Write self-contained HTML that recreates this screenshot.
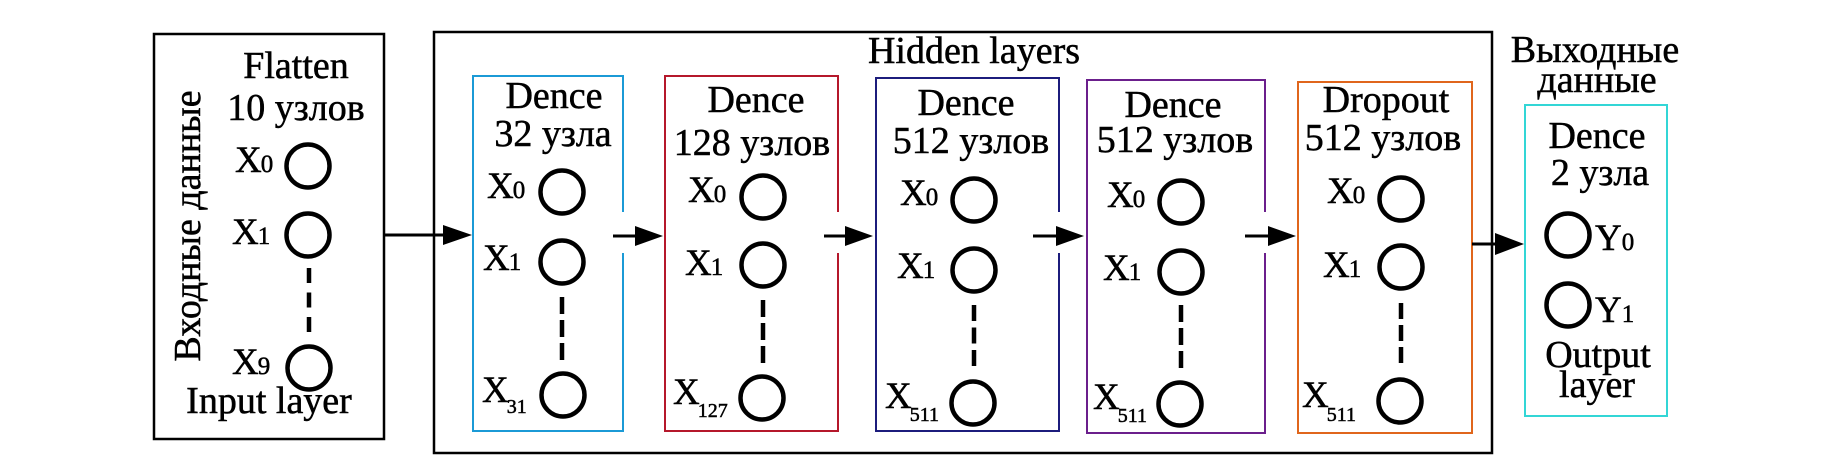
<!DOCTYPE html>
<html>
<head>
<meta charset="utf-8">
<style>
html,body{margin:0;padding:0;background:#fff;}
svg{display:block;}
text{font-family:"Liberation Serif","Times New Roman",serif;fill:#000;stroke:#000;stroke-width:0.5;}
</style>
</head>
<body>
<svg width="1831" height="461" viewBox="0 0 1831 461" xmlns="http://www.w3.org/2000/svg">
<rect x="0" y="0" width="1831" height="461" fill="#fff"/>

<!-- main boxes -->
<rect x="154" y="34" width="230" height="405" fill="none" stroke="#000" stroke-width="2.5"/>
<rect x="434" y="32" width="1058" height="421" fill="none" stroke="#000" stroke-width="2.5"/>

<!-- colored layer boxes (right borders with gaps for arrows) -->
<g fill="none" stroke-width="2">
  <path d="M623 212 V76 H473 V431 H623 V253" stroke="#1b9ad6"/>
  <path d="M838 212 V76 H665 V431 H838 V253" stroke="#b5182b"/>
  <path d="M1059 212 V78 H876 V431 H1059 V253" stroke="#1c1c7c"/>
  <path d="M1265 212 V80 H1087 V433 H1265 V253" stroke="#6b1f8c"/>
  <rect x="1298" y="82" width="174" height="351" stroke="#e0661c"/>
  <rect x="1525" y="105" width="142" height="311" stroke="#33d6d6"/>
</g>

<!-- arrows -->
<g stroke="#000" stroke-width="3">
  <line x1="384" y1="235" x2="446" y2="235"/>
  <line x1="613" y1="236" x2="637" y2="236"/>
  <line x1="824" y1="236" x2="847" y2="236"/>
  <line x1="1033" y1="236" x2="1057" y2="236"/>
  <line x1="1245" y1="236" x2="1269" y2="236"/>
  <line x1="1472" y1="244" x2="1497" y2="244"/>
</g>
<g fill="#000">
  <polygon points="472,235 443,225 443,245"/>
  <polygon points="663,236 635,226 635,246"/>
  <polygon points="873,236 845,226 845,246"/>
  <polygon points="1084,236 1056,226 1056,246"/>
  <polygon points="1296,236 1268,226 1268,246"/>
  <polygon points="1524,244 1495,233 1495,255"/>
</g>

<!-- circles -->
<g fill="none" stroke="#000" stroke-width="4.5">
  <circle cx="308" cy="166" r="21.5"/>
  <circle cx="308" cy="235" r="21.5"/>
  <circle cx="309" cy="368" r="21.5"/>

  <circle cx="562" cy="192" r="21.5"/>
  <circle cx="562" cy="262" r="21.5"/>
  <circle cx="563" cy="395" r="21.5"/>

  <circle cx="763" cy="197" r="21.5"/>
  <circle cx="763" cy="265" r="21.5"/>
  <circle cx="762" cy="398" r="21.5"/>

  <circle cx="974" cy="200" r="21.5"/>
  <circle cx="974" cy="270" r="21.5"/>
  <circle cx="973" cy="403" r="21.5"/>

  <circle cx="1181" cy="202" r="21.5"/>
  <circle cx="1181" cy="272" r="21.5"/>
  <circle cx="1180" cy="404" r="21.5"/>

  <circle cx="1401" cy="199" r="21.5"/>
  <circle cx="1401" cy="267" r="21.5"/>
  <circle cx="1400" cy="401" r="21.5"/>

  <circle cx="1568" cy="235" r="21.5"/>
  <circle cx="1568" cy="305" r="21.5"/>
</g>

<!-- dashed connectors -->
<g stroke="#000" stroke-width="4.5">
  <line x1="309" y1="268" x2="309" y2="332" stroke-dasharray="15 9.5"/>
  <line x1="562" y1="297" x2="562" y2="360" stroke-dasharray="17 6"/>
  <line x1="763" y1="300" x2="763" y2="363" stroke-dasharray="17 6"/>
  <line x1="974" y1="305" x2="974" y2="366" stroke-dasharray="16 6.5"/>
  <line x1="1181" y1="305" x2="1181" y2="368" stroke-dasharray="17 6"/>
  <line x1="1401" y1="303" x2="1401" y2="363" stroke-dasharray="16 6"/>
</g>

<!-- titles -->
<g font-size="38" text-anchor="middle">
  <text x="296" y="78">Flatten</text>
  <text x="296" y="120">10 узлов</text>
  <text x="974" y="63">Hidden layers</text>

  <text x="554" y="108">Dence</text>
  <text x="553" y="146">32 узла</text>

  <text x="756" y="112">Dence</text>
  <text x="752" y="155">128 узлов</text>

  <text x="966" y="115">Dence</text>
  <text x="971" y="153">512 узлов</text>

  <text x="1173" y="117">Dence</text>
  <text x="1175" y="152">512 узлов</text>

  <text x="1386" y="112">Dropout</text>
  <text x="1383" y="150">512 узлов</text>

  <text x="1595" y="62">Выходные</text>
  <text x="1597" y="92">данные</text>

  <text x="1597" y="148">Dence</text>
  <text x="1600" y="185">2 узла</text>

  <text x="1598" y="367">Output</text>
  <text x="1597" y="397">layer</text>

  <text x="269" y="413">Input layer</text>

  <text transform="translate(200,226) rotate(-90)" x="0" y="0">Входные данные</text>
</g>

<!-- node labels: single-digit subscripts on baseline -->
<g font-size="37">
  <text x="235" y="172">X<tspan font-size="25" dx="-1">0</tspan></text>
  <text x="232" y="244">X<tspan font-size="25" dx="-1">1</tspan></text>
  <text x="232" y="374">X<tspan font-size="25" dx="-1">9</tspan></text>

  <text x="487" y="198">X<tspan font-size="25" dx="-1">0</tspan></text>
  <text x="483" y="270">X<tspan font-size="25" dx="-1">1</tspan></text>

  <text x="688" y="202">X<tspan font-size="25" dx="-1">0</tspan></text>
  <text x="685" y="275">X<tspan font-size="25" dx="-1">1</tspan></text>

  <text x="900" y="205">X<tspan font-size="25" dx="-1">0</tspan></text>
  <text x="897" y="278">X<tspan font-size="25" dx="-1">1</tspan></text>

  <text x="1107" y="207">X<tspan font-size="25" dx="-1">0</tspan></text>
  <text x="1103" y="280">X<tspan font-size="25" dx="-1">1</tspan></text>

  <text x="1327" y="203">X<tspan font-size="25" dx="-1">0</tspan></text>
  <text x="1323" y="277">X<tspan font-size="25" dx="-1">1</tspan></text>

  <text x="1595" y="250">Y<tspan font-size="25" dx="0">0</tspan></text>
  <text x="1595" y="322">Y<tspan font-size="25" dx="0">1</tspan></text>
</g>

<!-- node labels: lowered multi-digit subscripts -->
<g font-size="37">
  <text x="482" y="402">X<tspan font-size="20" dx="-2" dy="11">31</tspan></text>
  <text x="673" y="404">X<tspan font-size="20" dx="-2" dy="13">127</tspan></text>
  <text x="885" y="408">X<tspan font-size="20" dx="-2" dy="13">511</tspan></text>
  <text x="1093" y="409">X<tspan font-size="20" dx="-2" dy="13">511</tspan></text>
  <text x="1302" y="407">X<tspan font-size="20" dx="-2" dy="14">511</tspan></text>
</g>
</svg>
</body>
</html>
